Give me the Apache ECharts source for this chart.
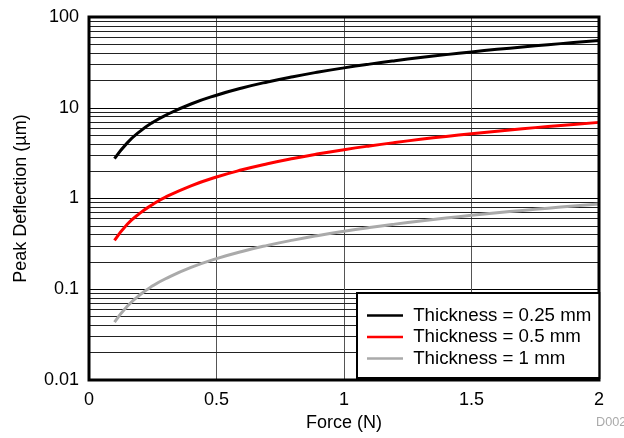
<!DOCTYPE html>
<html><head><meta charset="utf-8">
<script src="https://cdn.jsdelivr.net/npm/echarts@6/dist/echarts.min.js"></script>
<style>html,body{margin:0;padding:0;background:#fff}#c{width:624px;height:438px}</style>
</head><body><div id="c"></div>
<script>
const force = [0.1,0.15,0.2,0.25,0.3,0.4,0.5,0.6,0.7,0.8,0.9,1.0,1.1,1.2,1.3,1.4,1.5,1.6,1.7,1.8,1.9,2.0];
const t025 = [2.75,4.1,5.5,6.9,8.25,11,13.75,16.5,19.25,22,24.75,27.5,30.25,33,35.75,38.5,41.25,44,46.75,49.5,52.25,55];
const t05  = [0.345,0.52,0.69,0.86,1.035,1.38,1.725,2.07,2.415,2.76,3.105,3.45,3.795,4.14,4.485,4.83,5.175,5.52,5.865,6.21,6.555,6.9];
const t1   = [0.0435,0.065,0.087,0.109,0.1305,0.174,0.2175,0.261,0.3045,0.348,0.3915,0.435,0.4785,0.522,0.5655,0.609,0.6525,0.696,0.7395,0.783,0.8265,0.87];
const seriesNames = ['Thickness = 0.25 mm','Thickness = 0.5 mm','Thickness = 1 mm'];
const seriesColors = ['#000000','#ff0000','#aaaaaa'];
const yTicks = [0.01,0.1,1,10,100];
const xTicks = ['0','0.5','1','1.5','2'];
const minorLines = [];
[0.01,0.1,1,10].forEach(d=>{for(let k=2;k<=9;k++) minorLines.push(+(d*k).toPrecision(3));});

const font = 'Liberation Sans, Arial, sans-serif';
const chart = echarts.init(document.getElementById('c'));
const mk = (vals) => force.map((f,i)=>[f, vals[i]]);
const all = [t025,t05,t1];
chart.setOption({
  animation:false,
  grid:{left:89,right:25,top:17,bottom:58,show:true,borderColor:'#000',borderWidth:3,backgroundColor:'transparent',z:10},
  xAxis:{type:'value',min:0,max:2,interval:0.5,
    name:'Force (N)',nameLocation:'middle',nameGap:30,
    nameTextStyle:{fontFamily:font,fontSize:18,color:'#000'},
    axisLine:{show:false},axisTick:{show:false},
    axisLabel:{fontFamily:font,fontSize:18,color:'#000',margin:11,
      formatter:v=>{const i=Math.round(v/0.5);return xTicks[i]!==undefined?xTicks[i]:'';}},
    splitLine:{show:true,lineStyle:{color:'#555',width:1}}},
  yAxis:{type:'log',logBase:10,min:0.01,max:100,
    name:'Peak Deflection (µm)',nameLocation:'middle',nameGap:59,
    nameTextStyle:{fontFamily:font,fontSize:18,color:'#000'},
    axisLine:{show:false},axisTick:{show:false},
    axisLabel:{fontFamily:font,fontSize:18,color:'#000',margin:10,
      formatter:v=>{for(const t of yTicks){if(Math.abs(v-t)/t<1e-6)return String(t);}return '';}},
    splitLine:{show:true,lineStyle:{color:'#000',width:1}}},
  legend:{left:357,top:293,orient:'vertical',
    data:seriesNames,
    formatter:n=>' '+n,
    backgroundColor:'#fff',borderColor:'#000',borderWidth:2,
    padding:[13,8,10,10],itemGap:2.5,itemWidth:36,itemHeight:2.5,icon:'rect',
    textStyle:{fontFamily:font,fontSize:18.7,color:'#000',lineHeight:18},z:20},
  series:[
    {name:'grid',type:'line',data:[[0,1]],showSymbol:false,symbol:'none',lineStyle:{opacity:0},silent:true,z:1,
      markLine:{silent:true,symbol:'none',label:{show:false},animation:false,
        lineStyle:{color:'#222',width:1,type:'solid'},
        data:minorLines.map(v=>({yAxis:v}))}},
    ...seriesNames.map((n,i)=>({name:n,type:'line',data:mk(all[i]),smooth:true,showSymbol:false,symbol:'none',
      lineStyle:{color:seriesColors[i],width:3},itemStyle:{color:seriesColors[i]},z:5}))
  ],
  graphic:[{type:'text',left:596,top:416,style:{text:'D002',fontFamily:font,fontSize:12.7,fill:'#aaa'}}]
});
</script></body></html>
